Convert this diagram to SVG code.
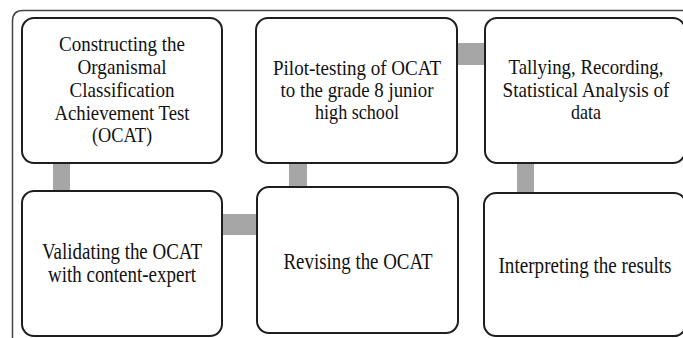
<svg xmlns="http://www.w3.org/2000/svg" width="683" height="338" viewBox="0 0 683 338">
<style>
.box{fill:#fff;stroke:#1e1e1e;stroke-width:2}
.con{fill:#a6a6a6;stroke:none}
.t{font-family:"Liberation Serif","Times New Roman",serif;fill:#111;text-anchor:middle}
.s{font-size:22px}
.b{font-size:24px}
</style>
<rect x="0" y="0" width="683" height="338" fill="#fff"/>
<path d="M12.5,340 V21 Q12.5,10.5 23,10.5 H690" fill="none" stroke="#444" stroke-width="1.5"/>
<g id="connectors">
<rect class="con" x="53" y="163" width="17" height="29"/>
<rect class="con" x="221" y="214" width="37" height="21"/>
<rect class="con" x="289" y="162" width="18" height="26"/>
<rect class="con" x="457" y="43" width="29" height="22"/>
<rect class="con" x="517" y="162" width="17" height="32"/>
</g>
<g id="n1">
<rect class="box" x="22" y="18" width="200" height="145" rx="12"/>
<text class="t s" x="122" y="51" textLength="126" lengthAdjust="spacingAndGlyphs">Constructing the</text>
<text class="t s" x="122" y="73.5" textLength="89" lengthAdjust="spacingAndGlyphs">Organismal</text>
<text class="t s" x="122" y="97" textLength="105" lengthAdjust="spacingAndGlyphs">Classification</text>
<text class="t s" x="122" y="119.5" textLength="135" lengthAdjust="spacingAndGlyphs">Achievement Test</text>
<text class="t s" x="122" y="141.5" textLength="60" lengthAdjust="spacingAndGlyphs">(OCAT)</text>
</g>
<g id="n2">
<rect class="box" x="22" y="191" width="200" height="145" rx="12"/>
<text class="t b" x="122" y="259" textLength="160" lengthAdjust="spacingAndGlyphs">Validating the OCAT</text>
<text class="t b" x="122" y="282" textLength="148" lengthAdjust="spacingAndGlyphs">with content-expert</text>
</g>
<g id="n3">
<rect class="box" x="257" y="187" width="201" height="146" rx="12"/>
<text class="t b" x="358" y="269" textLength="149" lengthAdjust="spacingAndGlyphs">Revising the OCAT</text>
</g>
<g id="n4">
<rect class="box" x="256" y="18" width="201" height="145" rx="12"/>
<text class="t s" x="357" y="75" textLength="168" lengthAdjust="spacingAndGlyphs">Pilot-testing of OCAT</text>
<text class="t s" x="357" y="97" textLength="153" lengthAdjust="spacingAndGlyphs">to the grade 8 junior</text>
<text class="t s" x="357" y="119" textLength="84" lengthAdjust="spacingAndGlyphs">high school</text>
</g>
<g id="n5">
<rect class="box" x="485" y="18" width="200" height="145" rx="12"/>
<text class="t s" x="586" y="74" textLength="155" lengthAdjust="spacingAndGlyphs">Tallying, Recording,</text>
<text class="t s" x="586" y="97" textLength="167" lengthAdjust="spacingAndGlyphs">Statistical Analysis of</text>
<text class="t s" x="586" y="119" textLength="30" lengthAdjust="spacingAndGlyphs">data</text>
</g>
<g id="n6">
<rect class="box" x="484" y="193" width="202" height="143" rx="12"/>
<text class="t b" x="585" y="273" textLength="173" lengthAdjust="spacingAndGlyphs">Interpreting the results</text>
</g>
</svg>
